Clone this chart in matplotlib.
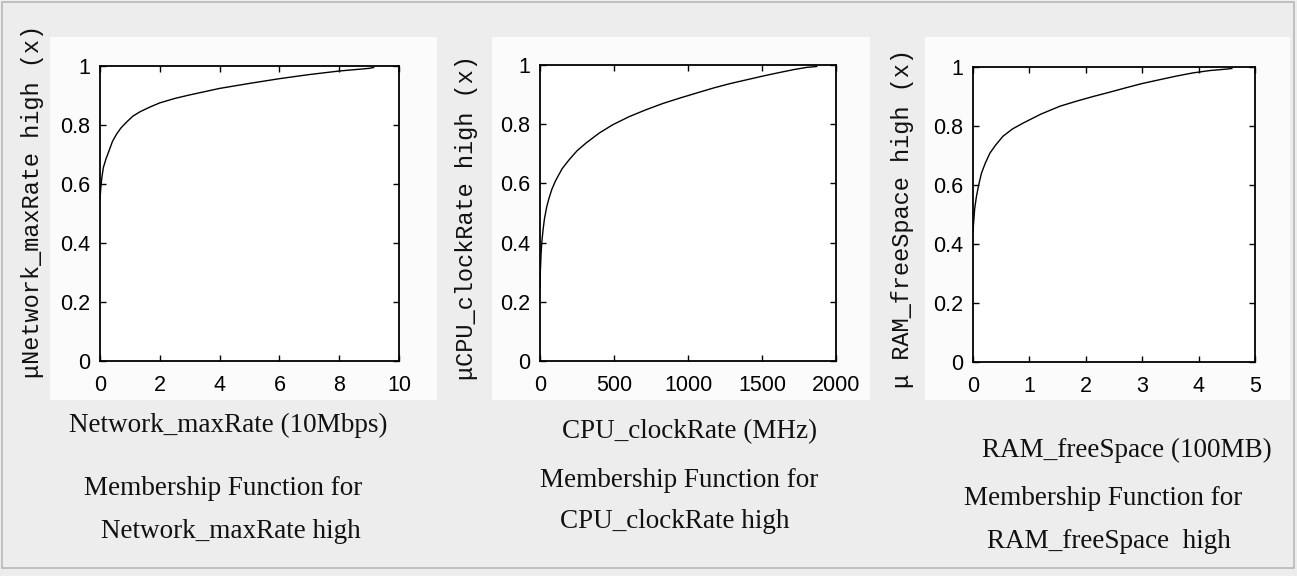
import matplotlib
matplotlib.use("Agg")
import matplotlib.pyplot as plt
from matplotlib import font_manager
from matplotlib.patches import Rectangle

# ---------------- data ----------------
net_x = [0.0, 0.03, 0.06, 0.11, 0.2, 0.3, 0.42, 0.56, 0.7, 0.89, 1.1, 1.34, 1.65, 2.0,
         2.5, 3.0, 3.5, 4.0, 5.0, 6.0, 7.0, 8.0, 9.0, 9.15]
net_y = [0.55, 0.59, 0.62, 0.655, 0.685, 0.712, 0.745, 0.77, 0.79, 0.81, 0.83, 0.845, 0.86, 0.875,
         0.89, 0.902, 0.913, 0.924, 0.941, 0.957, 0.971, 0.983, 0.992, 0.995]

cpu_x = [0, 3, 7, 12, 20, 30, 45, 61, 80, 106, 150, 197, 250, 310, 400, 491, 600, 717,
         830, 943, 1056, 1170, 1283, 1396, 1509, 1622, 1720, 1803, 1870]
cpu_y = [0.25, 0.31, 0.36, 0.40, 0.44, 0.48, 0.52, 0.55, 0.58, 0.61, 0.65, 0.68, 0.71, 0.736,
         0.77, 0.798, 0.825, 0.849, 0.87, 0.888, 0.905, 0.922, 0.937, 0.95, 0.963, 0.975,
         0.985, 0.992, 0.995]

ram_x = [0.0, 0.01, 0.03, 0.06, 0.1, 0.15, 0.22, 0.3, 0.4, 0.53, 0.7, 0.89, 1.2, 1.54,
         1.85, 2.13, 2.43, 2.72, 3.0, 3.31, 3.6, 3.9, 4.2, 4.5, 4.59]
ram_y = [0.44, 0.47, 0.52, 0.56, 0.60, 0.64, 0.675, 0.708, 0.735, 0.765, 0.79, 0.81, 0.84,
         0.867, 0.885, 0.90, 0.915, 0.93, 0.944, 0.957, 0.969, 0.98, 0.988, 0.993, 0.995]

y_ticks = [0, 0.2, 0.4, 0.6, 0.8, 1]
y_ticklabels = ["0", "0.2", "0.4", "0.6", "0.8", "1"]
net_xticks = [0, 2, 4, 6, 8, 10]
cpu_xticks = [0, 500, 1000, 1500, 2000]
ram_xticks = [0, 1, 2, 3, 4, 5]

ylabels = ["\u03bcNetwork_maxRate high (x)",
           "\u03bcCPU_clockRate high (x)",
           "\u03bc RAM_freeSpace high (x)"]
xlabels = ["Network_maxRate (10Mbps)", "CPU_clockRate (MHz)", "RAM_freeSpace (100MB)"]
captions1 = ["Membership Function for"] * 3
captions2 = ["Network_maxRate high", "CPU_clockRate high", "RAM_freeSpace  high"]

# ---------------- fonts ----------------
names = {f.name for f in font_manager.fontManager.ttflist}
def pick(*cands):
    for c in cands:
        if c in names:
            return c
    return "DejaVu Sans"
tick_font = pick("Liberation Sans Narrow", "DejaVu Sans Condensed", "Liberation Sans")
mono_font = pick("Liberation Mono", "DejaVu Sans Mono")
serif_font = pick("Liberation Serif", "DejaVu Serif")

W, H = 1297, 576
fig = plt.figure(figsize=(W / 100, H / 100), dpi=100)
fig.patch.set_facecolor("#ededed")

def fx(px):
    return px / W
def fy(py):
    return 1 - py / H

# outer border & white panels
fig.add_artist(Rectangle((fx(2), fy(568)), fx(1292), (566) / H, transform=fig.transFigure,
                         facecolor="none", edgecolor="#b8b8b8", lw=1.2))
for (x0, x1) in [(50, 437), (492, 870), (925, 1290)]:
    fig.add_artist(Rectangle((fx(x0), fy(400)), fx(x1 - x0), (400 - 37) / H,
                             transform=fig.transFigure, facecolor="#fbfbfb",
                             edgecolor="none", zorder=0))

axes_px = [(100, 66, 399, 361), (540, 65, 836, 361), (973, 67, 1255, 362)]
series = [(net_x, net_y, net_xticks, 10), (cpu_x, cpu_y, cpu_xticks, 2000), (ram_x, ram_y, ram_xticks, 5)]

for (l, t, r, b), (xs, ys, xt, xmax) in zip(axes_px, series):
    ax = fig.add_axes([fx(l), fy(b), fx(r - l), (b - t) / H])
    ax.set_facecolor("white")
    ax.plot(xs, ys, color="black", lw=1.0)
    ax.set_xlim(0, xmax)
    ax.set_ylim(0, 1)
    ax.set_xticks(xt)
    ax.set_xticklabels([str(v) for v in xt])
    ax.set_yticks(y_ticks)
    ax.set_yticklabels(y_ticklabels)
    ax.tick_params(direction="in", top=True, right=True, length=4, width=1,
                   labelsize=15.5)
    ax.tick_params(axis="x", pad=10)
    ax.tick_params(axis="y", pad=7)
    for lab in ax.get_xticklabels() + ax.get_yticklabels():
        lab.set_fontfamily(tick_font)
    for s in ax.spines.values():
        s.set_linewidth(1.3)

# y labels
ylab_pos = [(33, 201), (467, 218), (903, 218)]
for (x, y), txt in zip(ylab_pos, ylabels):
    fig.text(fx(x), fy(y), txt, rotation=90, ha="center", va="center",
             fontsize=17, family=[mono_font, "DejaVu Sans"], color="#111111")

# captions below
cap_x = [(228, 223, 231), (690, 679, 675), (1127, 1103, 1109)]
cap_y = [(432, 495, 538), (438, 487, 528), (457, 505, 548)]
for i in range(3):
    for txt, xx, yy in zip([xlabels[i], captions1[i], captions2[i]], cap_x[i], cap_y[i]):
        fig.text(fx(xx), fy(yy), txt, ha="center", va="baseline", fontsize=19.5,
                 family=serif_font, color="#111111")

fig.savefig("out.png", dpi=100, facecolor=fig.get_facecolor())
